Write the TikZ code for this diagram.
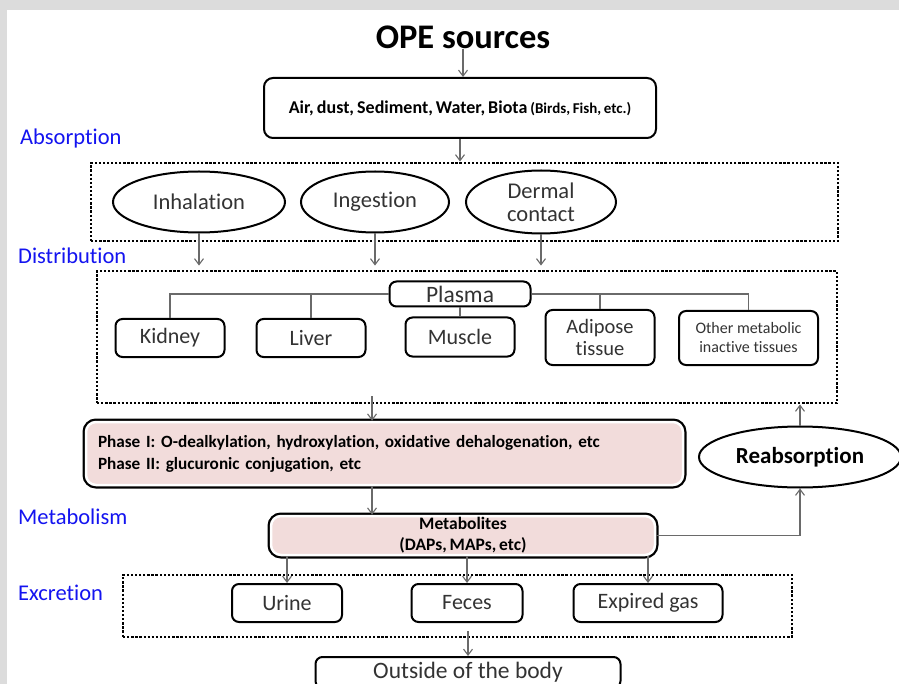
\documentclass[tikz,border=0pt]{standalone}
\usepackage{fontspec}
\setmainfont{Carlito}[Ligatures=NoCommon]
\usepackage{xcolor}
\definecolor{framegray}{HTML}{DCDCDC}
\definecolor{stageblue}{HTML}{1414F0}
\definecolor{metpink}{HTML}{F2DCDB}
\definecolor{txtgray}{HTML}{333333}
\definecolor{arrgray}{HTML}{6A6A6A}
\usepackage{tikz}
\usetikzlibrary{arrows.meta,positioning,calc,shapes.geometric}
\frenchspacing
\newcommand{\tightsp}{\spaceskip=0.17em plus 0.05em\relax}
\tikzset{
  titletext/.style={inner sep=0pt, font=\bfseries\fontsize{34.5}{36}\selectfont},
  stagelabel/.style={anchor=west, inner sep=0pt, text=stageblue, font=\fontsize{22.5}{24}\selectfont},
  srcbox/.style={rectangle, rounded corners=9pt, draw=black, line width=2pt, fill=white,
    minimum width=392pt, minimum height=60pt, inner sep=0pt, align=center,
    font=\bfseries\fontsize{18}{20}\selectfont\tightsp},
  dotbox/.style={rectangle, draw=black, line width=2.9pt, dash pattern=on 2.3pt off 1.8pt,
    inner sep=0pt},
  route/.style={ellipse, draw=black, line width=2pt, fill=white, minimum height=61pt,
    inner sep=0pt, align=center, text=txtgray, font=\fontsize{22.5}{23}\selectfont},
  organ/.style={rectangle, rounded corners=7pt, draw=black, line width=2pt, fill=white,
    minimum width=109pt, minimum height=38pt, inner sep=0pt, align=center, text=txtgray,
    font=\fontsize{22}{22}\selectfont},
  pinkbox/.style={rectangle, rounded corners=10pt, preaction={draw=black, line width=7pt},
    draw=white, line width=2.5pt, fill=metpink, inner sep=0pt,
    font=\bfseries\fontsize{17.2}{22}\selectfont\tightsp},
  reabs/.style={ellipse, draw=black, line width=2pt, fill=white, minimum width=202pt,
    minimum height=61pt, inner sep=0pt, font=\bfseries\fontsize{23}{24}\selectfont},
  flow/.style={draw=arrgray, line width=1.1pt, -{Straight Barb[length=6pt, width=9pt]}},
  link/.style={draw=arrgray, line width=1.1pt},
}

\begin{document}
\begin{tikzpicture}[x=1pt, y=-1pt]
  \useasboundingbox (0,0) rectangle (899,684);
  \clip (0,0) rectangle (899,684);
  \fill[framegray] (0,0) rectangle (899,684);
  \fill[white] (7,10) rectangle (899,684);

  \node[titletext] (ttl) at (463,37) {OPE sources};
  \node[srcbox] (src) at (460,108) {Air, dust, Sediment, Water, Biota {\fontsize{15}{17}\selectfont\tightsp(Birds, Fish, etc.)}};

  \node[stagelabel] (sabs) at (20,139) {Absorption};
  \node[stagelabel] (sdis) at (18,256) {Distribution};
  \node[stagelabel] (smet) at (18,517) {Metabolism};
  \node[stagelabel] (sexc) at (18,593) {Excretion};

  \node[dotbox, minimum width=747pt, minimum height=78pt] (absbox) at (464.5,202) {};
  \node[route, minimum width=172pt] (inh) at (199,202) {Inhalation};
  \node[route, minimum width=148pt] (ing) at (375,202) {Ingestion};
  \node[route, minimum width=150pt, minimum height=63pt] (derm) at (541,202) {Dermal\\contact};

  \node[dotbox, minimum width=740pt, minimum height=132pt] (disbox) at (467,337) {};
  \node[organ, minimum width=141pt, minimum height=25pt, font=\fontsize{23.5}{24}\selectfont] (plasma) at (460,294) {Plasma};
  \node[organ] (kid) at (170,338) {Kidney};
  \node[organ] (liv) at (311,338) {Liver};
  \node[organ, minimum height=39pt] (mus) at (460,337) {Muscle};
  \node[organ, minimum height=55pt, font=\fontsize{20.5}{22}\selectfont] (adi) at (600,337.5) {Adipose\\tissue};
  \node[organ, minimum width=139pt, minimum height=54pt, font=\fontsize{16}{19}\selectfont] (oth) at (748.5,338) {Other metabolic\\inactive tissues};

  \node[pinkbox, minimum width=597pt, minimum height=63pt, text width=573pt, align=left] (phase) at (384.5,453.5) {Phase I: O-dealkylation, hydroxylation, oxidative dehalogenation, etc\\Phase II: glucuronic conjugation, etc};
  \node[pinkbox, minimum width=384pt, minimum height=39pt, align=center, font=\bfseries\fontsize{17.5}{21}\selectfont\tightsp] (metab) at (463,535.5) {Metabolites\\(DAPs, MAPs, etc)};
  \node[reabs] (reab) at (800,457) {Reabsorption};

  \node[dotbox, minimum width=669pt, minimum height=62pt] (excbox) at (457.5,606) {};
  \node[organ, minimum width=110pt] (uri) at (287,603) {Urine};
  \node[organ, minimum width=111pt] (fec) at (467,603) {Feces};
  \node[organ, minimum width=149pt] (gas) at (648,603) {Expired gas};
  \node[organ, minimum width=305pt, minimum height=31pt, anchor=north, font=\fontsize{23.5}{24}\selectfont] (out) at (468,656) {Outside of the body};

  \coordinate (axis) at (372,0);
  \draw[flow] (ttl.south) -- (src.north -| ttl.south);
  \draw[flow] (src.south) -- (src.south |- absbox.north);
  \draw[flow, shorten >=4pt] (inh.south) -- (inh.south |- disbox.north);
  \draw[flow, shorten >=4pt] (ing.south) -- (ing.south |- disbox.north);
  \draw[flow, shorten >=4pt] (derm.south) -- (derm.south |- disbox.north);
  \draw[link] (plasma.west) -| (kid.north);
  \draw[link] (plasma.west) -| (liv.north);
  \draw[link] (plasma.south) -- (mus.north);
  \draw[link] (plasma.east) -| (adi.north);
  \draw[link] (plasma.east) -| (oth.north);
  \draw[flow] ([yshift=8pt]axis |- disbox.south) -- (axis |- phase.north);
  \draw[flow] (axis |- phase.south) -- (axis |- metab.north);
  \draw[flow] (metab.east) -| (reab.south);
  \draw[flow] (reab.north) -- (reab.north |- disbox.south);
  \draw[flow] (metab.south -| uri) -- (uri.north);
  \draw[flow] (metab.south -| fec) -- (fec.north);
  \draw[flow] (metab.south -| gas) -- (gas.north);
  \draw[flow] ([yshift=7pt]excbox.south -| out) -- (out.north);
\end{tikzpicture}
\end{document}
